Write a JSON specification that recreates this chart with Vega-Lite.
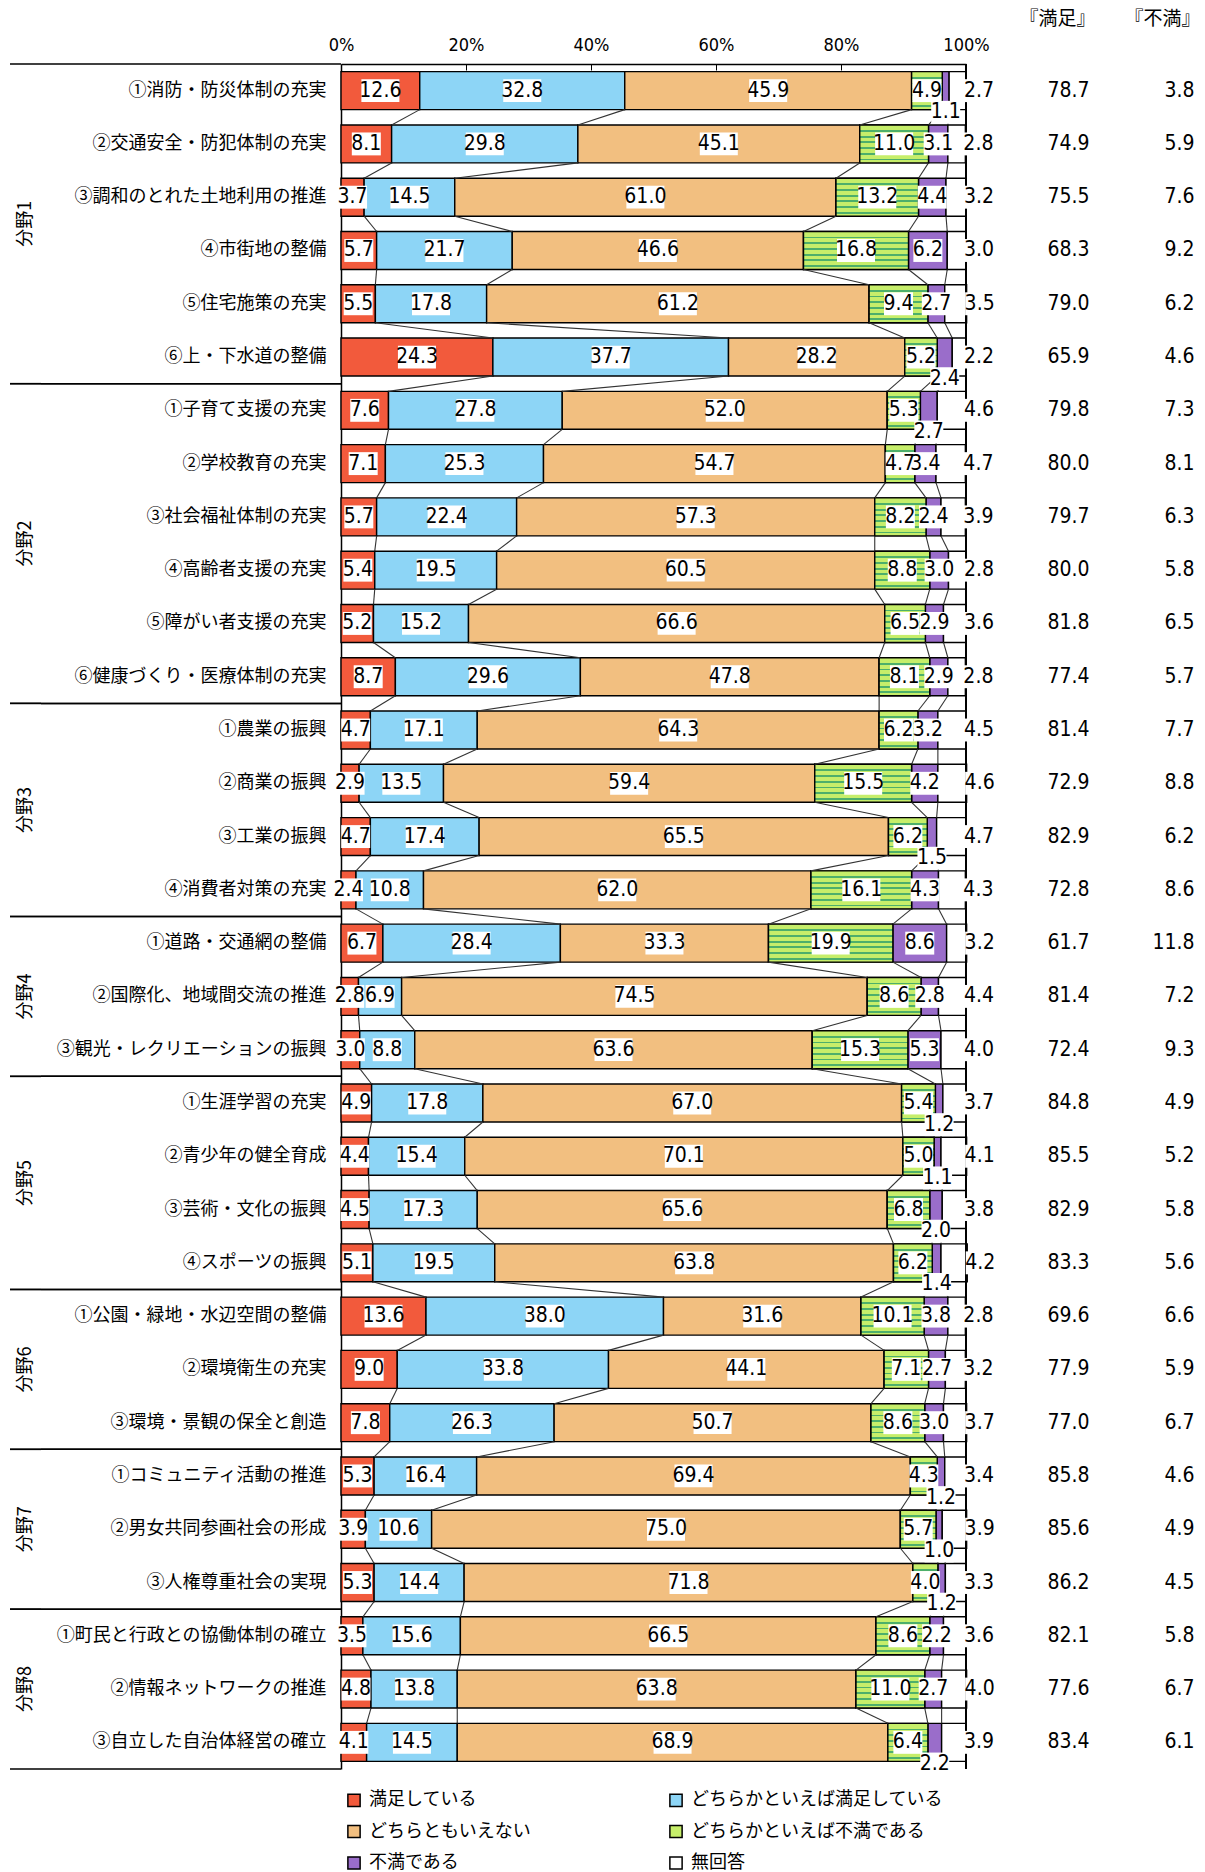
{
  "$schema": "https://vega.github.io/schema/vega-lite/v6.json",
  "padding": {"left": 9, "top": 9, "right": 0, "bottom": 0},
  "bounds": "flush",
  "config": {"view": {"stroke": null}},
  "datasets": {
    "items": [
      {"group": "分野1", "item": "①消防・防災体制の充実", "満足している": 12.6, "どちらかといえば満足している": 32.8, "どちらともいえない": 45.9, "どちらかといえば不満である": 4.9, "不満である": 1.1, "無回答": 2.7, "『満足』": 78.7, "『不満』": 3.8},
      {"group": "分野1", "item": "②交通安全・防犯体制の充実", "満足している": 8.1, "どちらかといえば満足している": 29.8, "どちらともいえない": 45.1, "どちらかといえば不満である": 11.0, "不満である": 3.1, "無回答": 2.8, "『満足』": 74.9, "『不満』": 5.9},
      {"group": "分野1", "item": "③調和のとれた土地利用の推進", "満足している": 3.7, "どちらかといえば満足している": 14.5, "どちらともいえない": 61.0, "どちらかといえば不満である": 13.2, "不満である": 4.4, "無回答": 3.2, "『満足』": 75.5, "『不満』": 7.6},
      {"group": "分野1", "item": "④市街地の整備", "満足している": 5.7, "どちらかといえば満足している": 21.7, "どちらともいえない": 46.6, "どちらかといえば不満である": 16.8, "不満である": 6.2, "無回答": 3.0, "『満足』": 68.3, "『不満』": 9.2},
      {"group": "分野1", "item": "⑤住宅施策の充実", "満足している": 5.5, "どちらかといえば満足している": 17.8, "どちらともいえない": 61.2, "どちらかといえば不満である": 9.4, "不満である": 2.7, "無回答": 3.5, "『満足』": 79.0, "『不満』": 6.2},
      {"group": "分野1", "item": "⑥上・下水道の整備", "満足している": 24.3, "どちらかといえば満足している": 37.7, "どちらともいえない": 28.2, "どちらかといえば不満である": 5.2, "不満である": 2.4, "無回答": 2.2, "『満足』": 65.9, "『不満』": 4.6},
      {"group": "分野2", "item": "①子育て支援の充実", "満足している": 7.6, "どちらかといえば満足している": 27.8, "どちらともいえない": 52.0, "どちらかといえば不満である": 5.3, "不満である": 2.7, "無回答": 4.6, "『満足』": 79.8, "『不満』": 7.3},
      {"group": "分野2", "item": "②学校教育の充実", "満足している": 7.1, "どちらかといえば満足している": 25.3, "どちらともいえない": 54.7, "どちらかといえば不満である": 4.7, "不満である": 3.4, "無回答": 4.7, "『満足』": 80.0, "『不満』": 8.1},
      {"group": "分野2", "item": "③社会福祉体制の充実", "満足している": 5.7, "どちらかといえば満足している": 22.4, "どちらともいえない": 57.3, "どちらかといえば不満である": 8.2, "不満である": 2.4, "無回答": 3.9, "『満足』": 79.7, "『不満』": 6.3},
      {"group": "分野2", "item": "④高齢者支援の充実", "満足している": 5.4, "どちらかといえば満足している": 19.5, "どちらともいえない": 60.5, "どちらかといえば不満である": 8.8, "不満である": 3.0, "無回答": 2.8, "『満足』": 80.0, "『不満』": 5.8},
      {"group": "分野2", "item": "⑤障がい者支援の充実", "満足している": 5.2, "どちらかといえば満足している": 15.2, "どちらともいえない": 66.6, "どちらかといえば不満である": 6.5, "不満である": 2.9, "無回答": 3.6, "『満足』": 81.8, "『不満』": 6.5},
      {"group": "分野2", "item": "⑥健康づくり・医療体制の充実", "満足している": 8.7, "どちらかといえば満足している": 29.6, "どちらともいえない": 47.8, "どちらかといえば不満である": 8.1, "不満である": 2.9, "無回答": 2.8, "『満足』": 77.4, "『不満』": 5.7},
      {"group": "分野3", "item": "①農業の振興", "満足している": 4.7, "どちらかといえば満足している": 17.1, "どちらともいえない": 64.3, "どちらかといえば不満である": 6.2, "不満である": 3.2, "無回答": 4.5, "『満足』": 81.4, "『不満』": 7.7},
      {"group": "分野3", "item": "②商業の振興", "満足している": 2.9, "どちらかといえば満足している": 13.5, "どちらともいえない": 59.4, "どちらかといえば不満である": 15.5, "不満である": 4.2, "無回答": 4.6, "『満足』": 72.9, "『不満』": 8.8},
      {"group": "分野3", "item": "③工業の振興", "満足している": 4.7, "どちらかといえば満足している": 17.4, "どちらともいえない": 65.5, "どちらかといえば不満である": 6.2, "不満である": 1.5, "無回答": 4.7, "『満足』": 82.9, "『不満』": 6.2},
      {"group": "分野3", "item": "④消費者対策の充実", "満足している": 2.4, "どちらかといえば満足している": 10.8, "どちらともいえない": 62.0, "どちらかといえば不満である": 16.1, "不満である": 4.3, "無回答": 4.3, "『満足』": 72.8, "『不満』": 8.6},
      {"group": "分野4", "item": "①道路・交通網の整備", "満足している": 6.7, "どちらかといえば満足している": 28.4, "どちらともいえない": 33.3, "どちらかといえば不満である": 19.9, "不満である": 8.6, "無回答": 3.2, "『満足』": 61.7, "『不満』": 11.8},
      {"group": "分野4", "item": "②国際化、地域間交流の推進", "満足している": 2.8, "どちらかといえば満足している": 6.9, "どちらともいえない": 74.5, "どちらかといえば不満である": 8.6, "不満である": 2.8, "無回答": 4.4, "『満足』": 81.4, "『不満』": 7.2},
      {"group": "分野4", "item": "③観光・レクリエーションの振興", "満足している": 3.0, "どちらかといえば満足している": 8.8, "どちらともいえない": 63.6, "どちらかといえば不満である": 15.3, "不満である": 5.3, "無回答": 4.0, "『満足』": 72.4, "『不満』": 9.3},
      {"group": "分野5", "item": "①生涯学習の充実", "満足している": 4.9, "どちらかといえば満足している": 17.8, "どちらともいえない": 67.0, "どちらかといえば不満である": 5.4, "不満である": 1.2, "無回答": 3.7, "『満足』": 84.8, "『不満』": 4.9},
      {"group": "分野5", "item": "②青少年の健全育成", "満足している": 4.4, "どちらかといえば満足している": 15.4, "どちらともいえない": 70.1, "どちらかといえば不満である": 5.0, "不満である": 1.1, "無回答": 4.1, "『満足』": 85.5, "『不満』": 5.2},
      {"group": "分野5", "item": "③芸術・文化の振興", "満足している": 4.5, "どちらかといえば満足している": 17.3, "どちらともいえない": 65.6, "どちらかといえば不満である": 6.8, "不満である": 2.0, "無回答": 3.8, "『満足』": 82.9, "『不満』": 5.8},
      {"group": "分野5", "item": "④スポーツの振興", "満足している": 5.1, "どちらかといえば満足している": 19.5, "どちらともいえない": 63.8, "どちらかといえば不満である": 6.2, "不満である": 1.4, "無回答": 4.2, "『満足』": 83.3, "『不満』": 5.6},
      {"group": "分野6", "item": "①公園・緑地・水辺空間の整備", "満足している": 13.6, "どちらかといえば満足している": 38.0, "どちらともいえない": 31.6, "どちらかといえば不満である": 10.1, "不満である": 3.8, "無回答": 2.8, "『満足』": 69.6, "『不満』": 6.6},
      {"group": "分野6", "item": "②環境衛生の充実", "満足している": 9.0, "どちらかといえば満足している": 33.8, "どちらともいえない": 44.1, "どちらかといえば不満である": 7.1, "不満である": 2.7, "無回答": 3.2, "『満足』": 77.9, "『不満』": 5.9},
      {"group": "分野6", "item": "③環境・景観の保全と創造", "満足している": 7.8, "どちらかといえば満足している": 26.3, "どちらともいえない": 50.7, "どちらかといえば不満である": 8.6, "不満である": 3.0, "無回答": 3.7, "『満足』": 77.0, "『不満』": 6.7},
      {"group": "分野7", "item": "①コミュニティ活動の推進", "満足している": 5.3, "どちらかといえば満足している": 16.4, "どちらともいえない": 69.4, "どちらかといえば不満である": 4.3, "不満である": 1.2, "無回答": 3.4, "『満足』": 85.8, "『不満』": 4.6},
      {"group": "分野7", "item": "②男女共同参画社会の形成", "満足している": 3.9, "どちらかといえば満足している": 10.6, "どちらともいえない": 75.0, "どちらかといえば不満である": 5.7, "不満である": 1.0, "無回答": 3.9, "『満足』": 85.6, "『不満』": 4.9},
      {"group": "分野7", "item": "③人権尊重社会の実現", "満足している": 5.3, "どちらかといえば満足している": 14.4, "どちらともいえない": 71.8, "どちらかといえば不満である": 4.0, "不満である": 1.2, "無回答": 3.3, "『満足』": 86.2, "『不満』": 4.5},
      {"group": "分野8", "item": "①町民と行政との協働体制の確立", "満足している": 3.5, "どちらかといえば満足している": 15.6, "どちらともいえない": 66.5, "どちらかといえば不満である": 8.6, "不満である": 2.2, "無回答": 3.6, "『満足』": 82.1, "『不満』": 5.8},
      {"group": "分野8", "item": "②情報ネットワークの推進", "満足している": 4.8, "どちらかといえば満足している": 13.8, "どちらともいえない": 63.8, "どちらかといえば不満である": 11.0, "不満である": 2.7, "無回答": 4.0, "『満足』": 77.6, "『不満』": 6.7},
      {"group": "分野8", "item": "③自立した自治体経営の確立", "満足している": 4.1, "どちらかといえば満足している": 14.5, "どちらともいえない": 68.9, "どちらかといえば不満である": 6.4, "不満である": 2.2, "無回答": 3.9, "『満足』": 83.4, "『不満』": 6.1}
    ]
  },
  "spacing": 0,
  "hconcat": [
    {
      "width": 31,
      "height": 1705,
      "data": {"name": "items"},
      "transform": [
        {"window": [{"op": "row_number", "as": "no"}]},
        {"aggregate": [
          {"op": "min", "field": "no", "as": "lo"},
          {"op": "max", "field": "no", "as": "hi"},
          {"op": "mean", "field": "no", "as": "mid"}
        ], "groupby": ["group"]},
        {"calculate": "datum.lo - 0.5", "as": "edge_top"},
        {"calculate": "datum.hi + 0.5", "as": "edge_bottom"}
      ],
      "layer": [
        {
          "mark": {"type": "rule", "color": "black", "strokeWidth": 1.5},
          "encoding": {"y": {"field": "edge_top", "type": "quantitative", "scale": {"domain": [0.5, 32.5], "reverse": true, "nice": false, "zero": false}, "axis": null}}
        },
        {
          "mark": {"type": "rule", "color": "black", "strokeWidth": 1.5},
          "encoding": {"y": {"field": "edge_bottom", "type": "quantitative"}}
        },
        {
          "mark": {"type": "text", "angle": 270, "font": "Noto Sans CJK JP", "fontSize": 18, "color": "black", "align": "center", "baseline": "middle"},
          "encoding": {"y": {"field": "mid", "type": "quantitative"}, "text": {"field": "group"}}
        }
      ]
    },
    {
      "width": 300,
      "height": 1705,
      "data": {"name": "items"},
      "transform": [
        {"window": [{"op": "row_number", "as": "no"}]},
        {"aggregate": [
          {"op": "min", "field": "no", "as": "lo"},
          {"op": "max", "field": "no", "as": "hi"}
        ], "groupby": ["group"]},
        {"calculate": "datum.lo - 0.5", "as": "edge_top"},
        {"calculate": "datum.hi + 0.5", "as": "edge_bottom"}
      ],
      "layer": [
        {
          "mark": {"type": "rule", "color": "black", "strokeWidth": 1.5},
          "encoding": {"y": {"field": "edge_top", "type": "quantitative", "scale": {"domain": [0.5, 32.5], "reverse": true, "nice": false, "zero": false}, "axis": null}}
        },
        {
          "mark": {"type": "rule", "color": "black", "strokeWidth": 1.5},
          "encoding": {"y": {"field": "edge_bottom", "type": "quantitative"}}
        }
      ]
    },
    {
      "width": 625,
      "height": 1705,
      "data": {"name": "items"},
      "transform": [
        {"fold": ["満足している", "どちらかといえば満足している", "どちらともいえない", "どちらかといえば不満である", "不満である", "無回答"], "as": ["key", "value"]},
        {"window": [
          {"op": "sum", "field": "value", "as": "cum"},
          {"op": "lag", "field": "value", "as": "prev"}
        ], "groupby": ["item"], "frame": [null, 0]},
        {"calculate": "datum.cum - datum.value", "as": "start"},
        {"calculate": "datum.cum - datum.value / 2", "as": "mid"},
        {"calculate": "datum.key == '不満である' && (datum.value < 2.1 || (datum.value < 2.8 && datum.prev < 7))", "as": "under"}
      ],
      "layer": [
        {
          "mark": {"type": "bar", "stroke": "black", "strokeWidth": 1.4},
          "encoding": {
            "y": {
              "field": "item", "type": "nominal", "sort": null,
              "scale": {"type": "band", "paddingInner": 0.287, "paddingOuter": 0.1435},
              "axis": {"title": null, "ticks": false, "domainColor": "black", "domainWidth": 1.5, "labelFont": "Noto Sans CJK JP", "labelFontSize": 18, "labelColor": "black", "labelPadding": 15, "labelLimit": 400}
            },
            "x": {
              "field": "start", "type": "quantitative",
              "scale": {"domain": [0, 100], "nice": false, "zero": false},
              "axis": {"orient": "top", "title": null, "values": [0, 20, 40, 60, 80, 100], "labelExpr": "datum.value + '%'", "grid": false, "domainColor": "black", "domainWidth": 1.5, "tickColor": "black", "tickSize": -6, "labelPadding": 16, "labelFont": "Liberation Sans Narrow, DejaVu Sans Condensed, Liberation Sans", "labelFontSize": 18, "labelColor": "black", "labelFlush": false}
            },
            "x2": {"field": "cum"},
            "fill": {
              "field": "key", "type": "nominal",
              "scale": {
                "domain": ["満足している", "どちらかといえば満足している", "どちらともいえない", "どちらかといえば不満である", "不満である", "無回答"],
                "range": ["#F25A3C", "#8DD5F6", "#F2BF80", "#C6EE6A", "#9A6DCA", "#FFFFFF"]
              },
              "legend": {
                "title": null, "orient": "none", "legendX": 335, "legendY": 1727, "direction": "horizontal",
                "columns": 2, "columnPadding": 135, "rowPadding": 11.5,
                "symbolType": "square", "symbolSize": 150, "symbolStrokeColor": "black", "symbolStrokeWidth": 1.5,
                "labelFont": "Noto Sans CJK JP", "labelFontSize": 18, "labelColor": "black", "labelOffset": 6, "labelLimit": 400
              }
            }
          }
        },
        {
          "transform": [{"filter": "datum.key == 'どちらかといえば不満である'"}],
          "mark": {
            "type": "bar", "stroke": "black", "strokeWidth": 1.4,
            "fill": {
              "gradient": "linear", "x1": 0, "y1": 0, "x2": 0, "y2": 1,
              "stops": [
                {"offset": 0, "color": "#C6EE6A"},
                {"offset": 0.136, "color": "#C6EE6A"}, {"offset": 0.136, "color": "#4DAF6B"}, {"offset": 0.184, "color": "#4DAF6B"}, {"offset": 0.184, "color": "#C6EE6A"},
                {"offset": 0.286, "color": "#C6EE6A"}, {"offset": 0.286, "color": "#4DAF6B"}, {"offset": 0.334, "color": "#4DAF6B"}, {"offset": 0.334, "color": "#C6EE6A"},
                {"offset": 0.436, "color": "#C6EE6A"}, {"offset": 0.436, "color": "#4DAF6B"}, {"offset": 0.484, "color": "#4DAF6B"}, {"offset": 0.484, "color": "#C6EE6A"},
                {"offset": 0.586, "color": "#C6EE6A"}, {"offset": 0.586, "color": "#4DAF6B"}, {"offset": 0.634, "color": "#4DAF6B"}, {"offset": 0.634, "color": "#C6EE6A"},
                {"offset": 0.736, "color": "#C6EE6A"}, {"offset": 0.736, "color": "#4DAF6B"}, {"offset": 0.784, "color": "#4DAF6B"}, {"offset": 0.784, "color": "#C6EE6A"},
                {"offset": 0.886, "color": "#C6EE6A"}, {"offset": 0.886, "color": "#4DAF6B"}, {"offset": 0.934, "color": "#4DAF6B"}, {"offset": 0.934, "color": "#C6EE6A"},
                {"offset": 1, "color": "#C6EE6A"}
              ]
            }
          },
          "encoding": {
            "y": {"field": "item", "type": "nominal", "sort": null},
            "x": {"field": "start", "type": "quantitative"},
            "x2": {"field": "cum"}
          }
        },
        {
          "transform": [
            {"window": [
              {"op": "lead", "field": "cum", "as": "next_cum"},
              {"op": "lead", "field": "item", "as": "next_item"}
            ], "groupby": ["key"]},
            {"filter": "datum.next_item != null && datum.key != '無回答'"}
          ],
          "mark": {"type": "rule", "color": "#333333", "strokeWidth": 1.1},
          "encoding": {
            "x": {"field": "cum", "type": "quantitative"},
            "x2": {"field": "next_cum"},
            "y": {"field": "item", "type": "nominal", "sort": null, "bandPosition": 1},
            "y2": {"field": "next_item", "bandPosition": 0}
          }
        },
        {
          "mark": {"type": "rule", "color": "black", "strokeWidth": 1.5},
          "encoding": {"x": {"datum": 100}}
        },
        {
          "transform": [{"filter": "datum.key != '無回答' && !datum.under"}],
          "mark": {"type": "point", "filled": true, "color": "white", "opacity": 1, "strokeWidth": 0},
          "encoding": {
            "x": {"field": "mid", "type": "quantitative"},
            "y": {"field": "item", "type": "nominal", "sort": null},
            "shape": {"condition": {"test": "datum.value >= 10", "value": "M-1,-0.6H1V0.6H-1Z"}, "value": "M-1,-0.79H1V0.79H-1Z"},
            "size": {"condition": {"test": "datum.value >= 10", "value": 1444}, "value": 841}
          }
        },
        {
          "transform": [{"filter": "datum.key != '無回答' && !datum.under"}],
          "mark": {"type": "text", "font": "Liberation Sans Narrow, DejaVu Sans Condensed, Liberation Sans", "fontSize": 21, "color": "black", "align": "center", "baseline": "middle"},
          "encoding": {
            "x": {"field": "mid", "type": "quantitative"},
            "y": {"field": "item", "type": "nominal", "sort": null},
            "text": {"field": "value", "format": ".1f"}
          }
        },
        {
          "transform": [{"filter": "datum.under"}],
          "mark": {"type": "point", "filled": true, "color": "white", "opacity": 1, "strokeWidth": 0, "shape": "M-1,-0.79H1V0.79H-1Z", "size": 841},
          "encoding": {
            "x": {"field": "mid", "type": "quantitative"},
            "y": {"field": "item", "type": "nominal", "sort": null, "bandPosition": 1.07}
          }
        },
        {
          "transform": [{"filter": "datum.under"}],
          "mark": {"type": "text", "font": "Liberation Sans Narrow, DejaVu Sans Condensed, Liberation Sans", "fontSize": 21, "color": "black", "align": "center", "baseline": "middle"},
          "encoding": {
            "x": {"field": "mid", "type": "quantitative"},
            "y": {"field": "item", "type": "nominal", "sort": null, "bandPosition": 1.07},
            "text": {"field": "value", "format": ".1f"}
          }
        },
        {
          "transform": [{"filter": "datum.key == '無回答'"}],
          "mark": {"type": "point", "filled": true, "color": "white", "opacity": 1, "strokeWidth": 0, "shape": "M-1,-0.79H1V0.79H-1Z", "size": 841, "xOffset": 13},
          "encoding": {
            "x": {"field": "cum", "type": "quantitative"},
            "y": {"field": "item", "type": "nominal", "sort": null}
          }
        },
        {
          "transform": [{"filter": "datum.key == '無回答'"}],
          "mark": {"type": "text", "font": "Liberation Sans Narrow, DejaVu Sans Condensed, Liberation Sans", "fontSize": 21, "color": "black", "align": "center", "baseline": "middle", "dx": 13},
          "encoding": {
            "x": {"field": "cum", "type": "quantitative"},
            "y": {"field": "item", "type": "nominal", "sort": null},
            "text": {"field": "value", "format": ".1f"}
          }
        }
      ]
    },
    {
      "width": 240,
      "height": 1705,
      "data": {"name": "items"},
      "transform": [{"fold": ["『満足』", "『不満』"], "as": ["col", "score"]}],
      "mark": {"type": "text", "font": "Liberation Sans Narrow, DejaVu Sans Condensed, Liberation Sans", "fontSize": 21, "color": "black", "align": "right", "baseline": "middle", "dx": 41},
      "encoding": {
        "x": {
          "field": "col", "type": "nominal", "sort": null,
          "scale": {"type": "band", "paddingInner": 0, "paddingOuter": 0.1429, "align": 1},
          "axis": {"orient": "top", "title": null, "ticks": false, "domain": false, "labelAngle": 0, "labelFont": "Noto Sans CJK JP", "labelFontSize": 19, "labelColor": "black", "labelPadding": 36, "labelOffset": 9}
        },
        "y": {
          "field": "item", "type": "nominal", "sort": null,
          "scale": {"type": "band", "paddingInner": 0.287, "paddingOuter": 0.1435},
          "axis": null
        },
        "text": {"field": "score", "format": ".1f"}
      }
    }
  ]
}
